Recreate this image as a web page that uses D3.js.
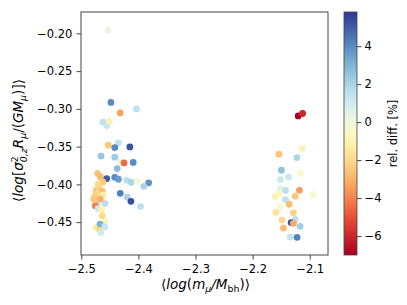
<!DOCTYPE html>
<html><head><meta charset="utf-8">
<script src="https://cdn.jsdelivr.net/npm/d3@7"></script>
<style>body{margin:0;background:#fff}svg{display:block}text{font-family:"DejaVu Sans",sans-serif;fill:#000}</style>
</head><body><svg id="c" width="407" height="305"></svg>
<script>
// x: <log(m/Mbh)>, y: <log[...]>, c: rel. diff. [%]
const xVals = [-2.4533,-2.4481,-2.4318,-2.4033,-2.4621,-2.4551,-2.4511,-2.4528,-2.4353,-2.4414,-2.4149,-2.4654,-2.4414,-2.4327,-2.4252,-2.4091,-2.4371,-2.4715,-2.4668,-2.4554,-2.4414,-2.4350,-2.4205,-2.4126,-2.4021,-2.3820,-2.3907,-2.4624,-2.4738,-2.4685,-2.4633,-2.4720,-2.4615,-2.4764,-2.4318,-2.4196,-2.4131,-2.3963,-2.4729,-2.4584,-2.4755,-2.4703,-2.4642,-2.4633,-2.4589,-2.4734,-2.4677,-2.4673,-2.4589,-2.4656,-2.4781,-2.4668,-2.4703,
 -2.1202,-2.1125,-2.1133,-2.1539,-2.1224,-2.1495,-2.1373,-2.1163,-2.1513,-2.1518,-2.1425,-2.1180,-2.0936,-2.1600,-2.1539,-2.1254,-2.1425,-2.1359,-2.1518,-2.1591,-2.1285,-2.1486,-2.1256,-2.1326,-2.1285,-2.1168,-2.1460,-2.1343,-2.1221];
const yVals = [-0.1956,-0.2915,-0.3053,-0.3000,-0.3176,-0.3220,-0.3167,-0.3481,-0.3451,-0.3512,-0.3504,-0.3625,-0.3640,-0.3707,-0.3716,-0.3709,-0.3790,-0.3853,-0.3899,-0.3923,-0.3906,-0.3932,-0.3946,-0.3972,-0.3959,-0.3979,-0.4025,-0.3968,-0.4078,-0.4052,-0.4092,-0.4125,-0.4138,-0.4151,-0.4118,-0.4167,-0.4224,-0.4294,-0.4254,-0.4254,-0.4283,-0.4321,-0.4334,-0.4416,-0.4498,-0.4572,-0.4602,-0.4526,-0.4564,-0.4641,-0.4197,-0.4197,-0.3998,
 -0.3093,-0.3061,-0.3525,-0.3601,-0.3645,-0.3813,-0.3902,-0.3857,-0.3936,-0.4055,-0.4078,-0.4078,-0.4135,-0.4158,-0.4128,-0.4158,-0.4201,-0.4263,-0.4294,-0.4370,-0.4376,-0.4472,-0.4465,-0.4505,-0.4515,-0.4555,-0.4579,-0.4697,-0.4701];
const cVals = [0.3,4.0,-3.3,1.5,1.5,1.3,-1.0,-2.5,1.5,4.0,5.2,2.5,2.3,0.2,-4.5,4.0,2.7,-2.5,-2.8,5.0,4.0,3.6,1.6,2.0,-0.2,3.8,2.0,-2.5,-2.6,-2.2,-2.8,-2.0,-1.2,-2.3,4.2,2.0,5.3,1.5,1.5,1.6,-4.0,1.2,-1.0,-2.0,-1.0,-1.5,-2.0,3.0,1.3,1.0,-2.5,-3.0,-2.0,
 -6.9,-6.0,-1.0,-2.6,2.0,2.6,1.2,-0.3,1.2,0.5,1.6,-3.5,-0.4,-1.1,-0.6,-2.5,1.5,-2.7,-0.4,-1.6,-2.2,-2.0,1.5,5.2,-3.2,2.2,-2.8,1.4,4.2];
const xTicks = [-2.5,-2.4,-2.3,-2.2,-2.1];
const yTicks = [-0.45,-0.40,-0.35,-0.30,-0.25,-0.20];
const cTicks = [-6,-4,-2,0,2,4];
const xDomain = [-2.5005,-2.068];
const yDomain = [-0.4935,-0.1717];
const cDomain = [-7.0,5.8];

const svg = d3.select('#c');
const L=81,R=328,T=12,B=255;
const x = d3.scaleLinear().domain(xDomain).range([L,R]);
const y = d3.scaleLinear().domain(yDomain).range([B,T]);
const col = d3.scaleSequential(d3.interpolateRdYlBu).domain(cDomain);
const fs = 11.5, lfs = 13.5;

const pts = xVals.map((v,i)=>({x:v,y:yVals[i],c:cVals[i]}));
svg.append('g').selectAll('circle').data(pts).join('circle')
  .attr('cx',d=>x(d.x)).attr('cy',d=>y(d.y)).attr('r',3.4)
  .attr('fill',d=>col(d.c));

svg.append('rect').attr('x',L).attr('y',T).attr('width',R-L).attr('height',B-T)
  .attr('fill','none').attr('stroke','#444').attr('stroke-width',1);

const gx = svg.append('g').attr('transform',`translate(0,${B})`)
  .call(d3.axisBottom(x).tickValues(xTicks).tickSize(4.5).tickFormat(d=>d3.format('.1f')(d).replace('-','\u2212')));
const gy = svg.append('g').attr('transform',`translate(${L},0)`)
  .call(d3.axisLeft(y).tickValues(yTicks).tickSize(4.5).tickFormat(d=>d3.format('.2f')(d).replace('-','\u2212')));
[gx,gy].forEach(g=>{g.select('.domain').remove();g.selectAll('line').attr('stroke','#444');
  g.selectAll('text').attr('font-size',fs).attr('font-family','DejaVu Sans');});
gx.selectAll('text').attr('dy','0.95em');
gy.selectAll('text').attr('dx','-0.1em');

// colorbar
const CL=344,CW=13;
const cy = d3.scaleLinear().domain(cDomain).range([B,T]);
const grad = svg.append('defs').append('linearGradient').attr('id','g').attr('x1',0).attr('x2',0).attr('y1',1).attr('y2',0);
d3.range(0,1.0001,0.05).forEach(t=>grad.append('stop').attr('offset',t).attr('stop-color',d3.interpolateRdYlBu(t)));
svg.append('rect').attr('x',CL).attr('y',T).attr('width',CW).attr('height',B-T).attr('fill','url(#g)').attr('stroke','#444').attr('stroke-width',0.8);
const gc = svg.append('g').attr('transform',`translate(${CL+CW},0)`)
  .call(d3.axisRight(cy).tickValues(cTicks).tickSize(4.5).tickFormat(d=>String(d).replace('-','\u2212')));
gc.select('.domain').remove();gc.selectAll('line').attr('stroke','#444');
gc.selectAll('text').attr('font-size',fs).attr('font-family','DejaVu Sans');

svg.append('text').attr('transform',`translate(397,${(T+B)/2}) rotate(-90)`).attr('text-anchor','middle')
  .attr('font-size',fs).text('rel. diff. [%]');

// x label
const xl = svg.append('text').attr('x',(L+R)/2+1).attr('y',289).attr('text-anchor','middle').attr('font-size',lfs);
xl.append('tspan').text('\u27e8');
xl.append('tspan').attr('font-style','italic').text('log');
xl.append('tspan').text('(');
xl.append('tspan').attr('font-style','italic').text('m');
xl.append('tspan').attr('font-style','italic').attr('font-size',lfs*0.7).attr('dy',3).text('\u03bc');
xl.append('tspan').attr('dy',-3).attr('font-style','italic').text('/M');
xl.append('tspan').attr('font-size',lfs*0.7).attr('dy',3).text('bh');
xl.append('tspan').attr('dy',-3).text(')\u27e9');

// y label
const yl = svg.append('text').attr('transform',`translate(23,${(T+B)/2+7}) rotate(-90)`).attr('text-anchor','middle').attr('font-size',lfs);
yl.append('tspan').text('\u27e8');
yl.append('tspan').attr('font-style','italic').text('log');
yl.append('tspan').text('[');
yl.append('tspan').attr('font-style','italic').text('\u03c3');
yl.append('tspan').attr('font-size',lfs*0.7).attr('dy',-5).text('2');
yl.append('tspan').attr('font-size',lfs*0.7).attr('font-style','italic').attr('dx',-6).attr('dy',8.5).text('0,z');
yl.append('tspan').attr('font-style','italic').attr('dy',-3.5).text('R');
yl.append('tspan').attr('font-style','italic').attr('font-size',lfs*0.7).attr('dy',3).text('\u03bc');
yl.append('tspan').attr('dy',-3).text('/(');
yl.append('tspan').attr('font-style','italic').text('GM');
yl.append('tspan').attr('font-style','italic').attr('font-size',lfs*0.7).attr('dy',3).text('\u03bc');
yl.append('tspan').attr('dy',-3).text(')]\u27e9');
</script></body></html>
